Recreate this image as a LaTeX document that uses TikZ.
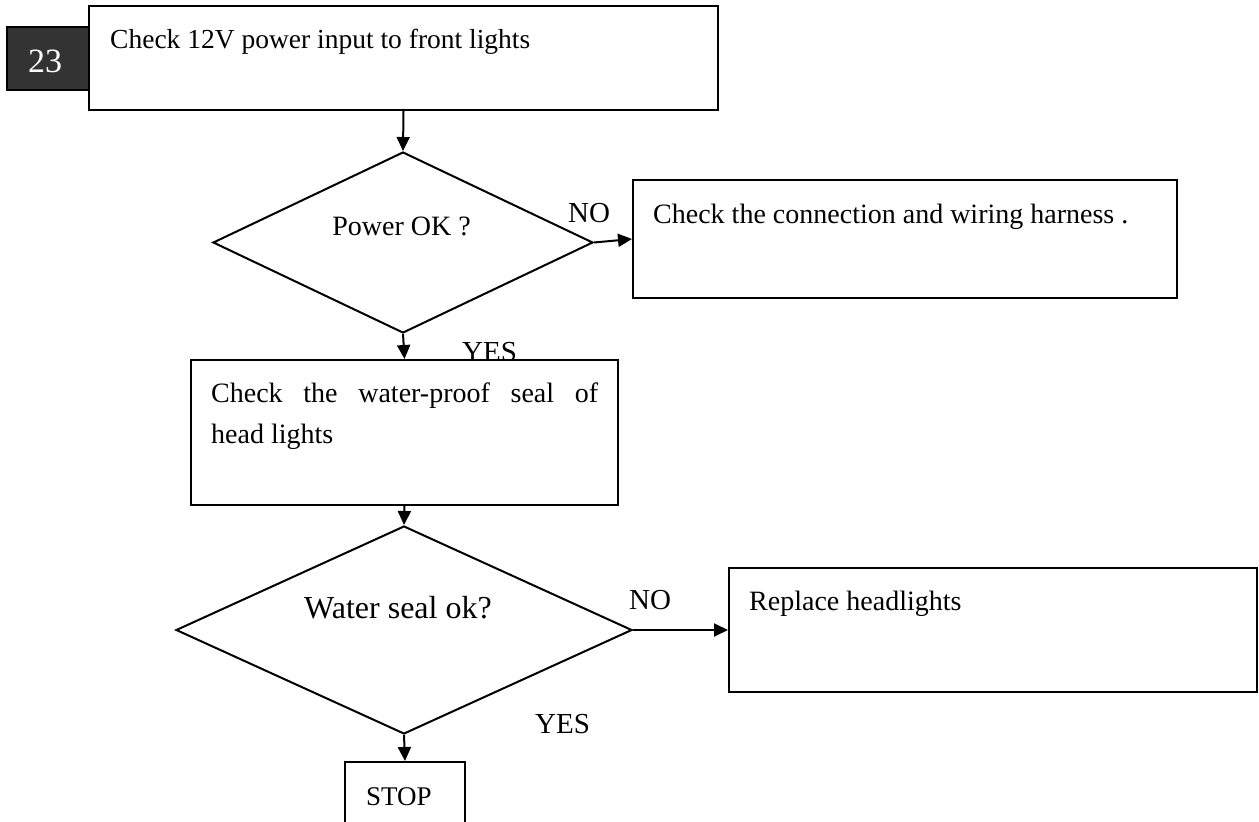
\documentclass[tikz,border=0pt]{standalone}
\usepackage{fontspec}
\setmainfont{Liberation Serif}
\usetikzlibrary{arrows.meta,shapes.geometric}
\begin{document}
\begin{tikzpicture}[x=1pt,y=-1pt,
  box/.style={draw, line width=2pt, fill=white, rectangle, inner sep=0pt},
  dia/.style={draw, line width=2pt, fill=white, diamond, inner sep=0pt},
  txt/.style={inner sep=0pt, anchor=base west, font=\fontsize{28}{41}\selectfont},
  lbl/.style={inner sep=0pt, anchor=base, font=\fontsize{29}{34}\selectfont},
  flow/.style={line width=2pt, -{Triangle[length=14pt,width=13pt]}},
]
\useasboundingbox (0,0) rectangle (1259,822);
\clip (0,0) rectangle (1259,822);

% labels drawn first (YES partly hidden by the box below it)
\node[lbl] (yes1) at (489.5,361) {YES};

% boxes
\node[box, minimum width=629pt, minimum height=104pt] (b1) at (403.5,58) {};
\node[box, fill=black!80, minimum width=82pt, minimum height=63pt] (n23) at (48,58.5) {};
\node[dia, minimum width=380pt, minimum height=181pt] (d1) at (403,242.5) {};
\node[box, minimum width=544pt, minimum height=118pt] (b2) at (905,239) {};
\node[box, minimum width=427pt, minimum height=145pt] (b3) at (404.5,432.5) {};
\node[dia, minimum width=456pt, minimum height=208pt] (d2) at (404,630) {};
\node[box, minimum width=528pt, minimum height=124pt] (b4) at (993,630) {};
\node[box, minimum width=120pt, minimum height=80pt] (stop) at (405,802) {};

% texts
\node[inner sep=0pt, anchor=base, text=white, font=\fontsize{34}{40}\selectfont] (t23) at (45,72) {23};
\node[txt, font=\fontsize{27.5}{33}\selectfont] (t1) at (110,48) {Check 12V power input to front lights};
\node[txt, anchor=base] (td1) at (401.5,235) {Power OK ?};
\node[txt] (t2) at (653,223) {Check the connection and wiring harness .};
\node[txt, text width=387pt, align=justify] (t3) at (211,402) {Check the water-proof seal of\linebreak head lights};
\node[inner sep=0pt, anchor=base, font=\fontsize{32}{38}\selectfont] (td2) at (398,618) {Water seal ok?};
\node[txt] (t4) at (749,610) {Replace headlights};
\node[txt, font=\fontsize{27}{32}\selectfont] (ts) at (366,805) {STOP};

\node[lbl] (no1) at (589,222) {NO};
\node[lbl] (no2) at (650,609) {NO};
\node[lbl] (yes2) at (562.5,733) {YES};

% connectors
\draw[flow] (b1.south) -- (d1.north);
\draw[flow] (d1.east) -- (b2.west);
\draw[flow] (d1.south) -- (b3.north);
\draw[flow] (b3.south) -- (d2.north);
\draw[flow] (d2.east) -- (b4.west);
\draw[flow] (d2.south) -- (stop.north);
\end{tikzpicture}
\end{document}
